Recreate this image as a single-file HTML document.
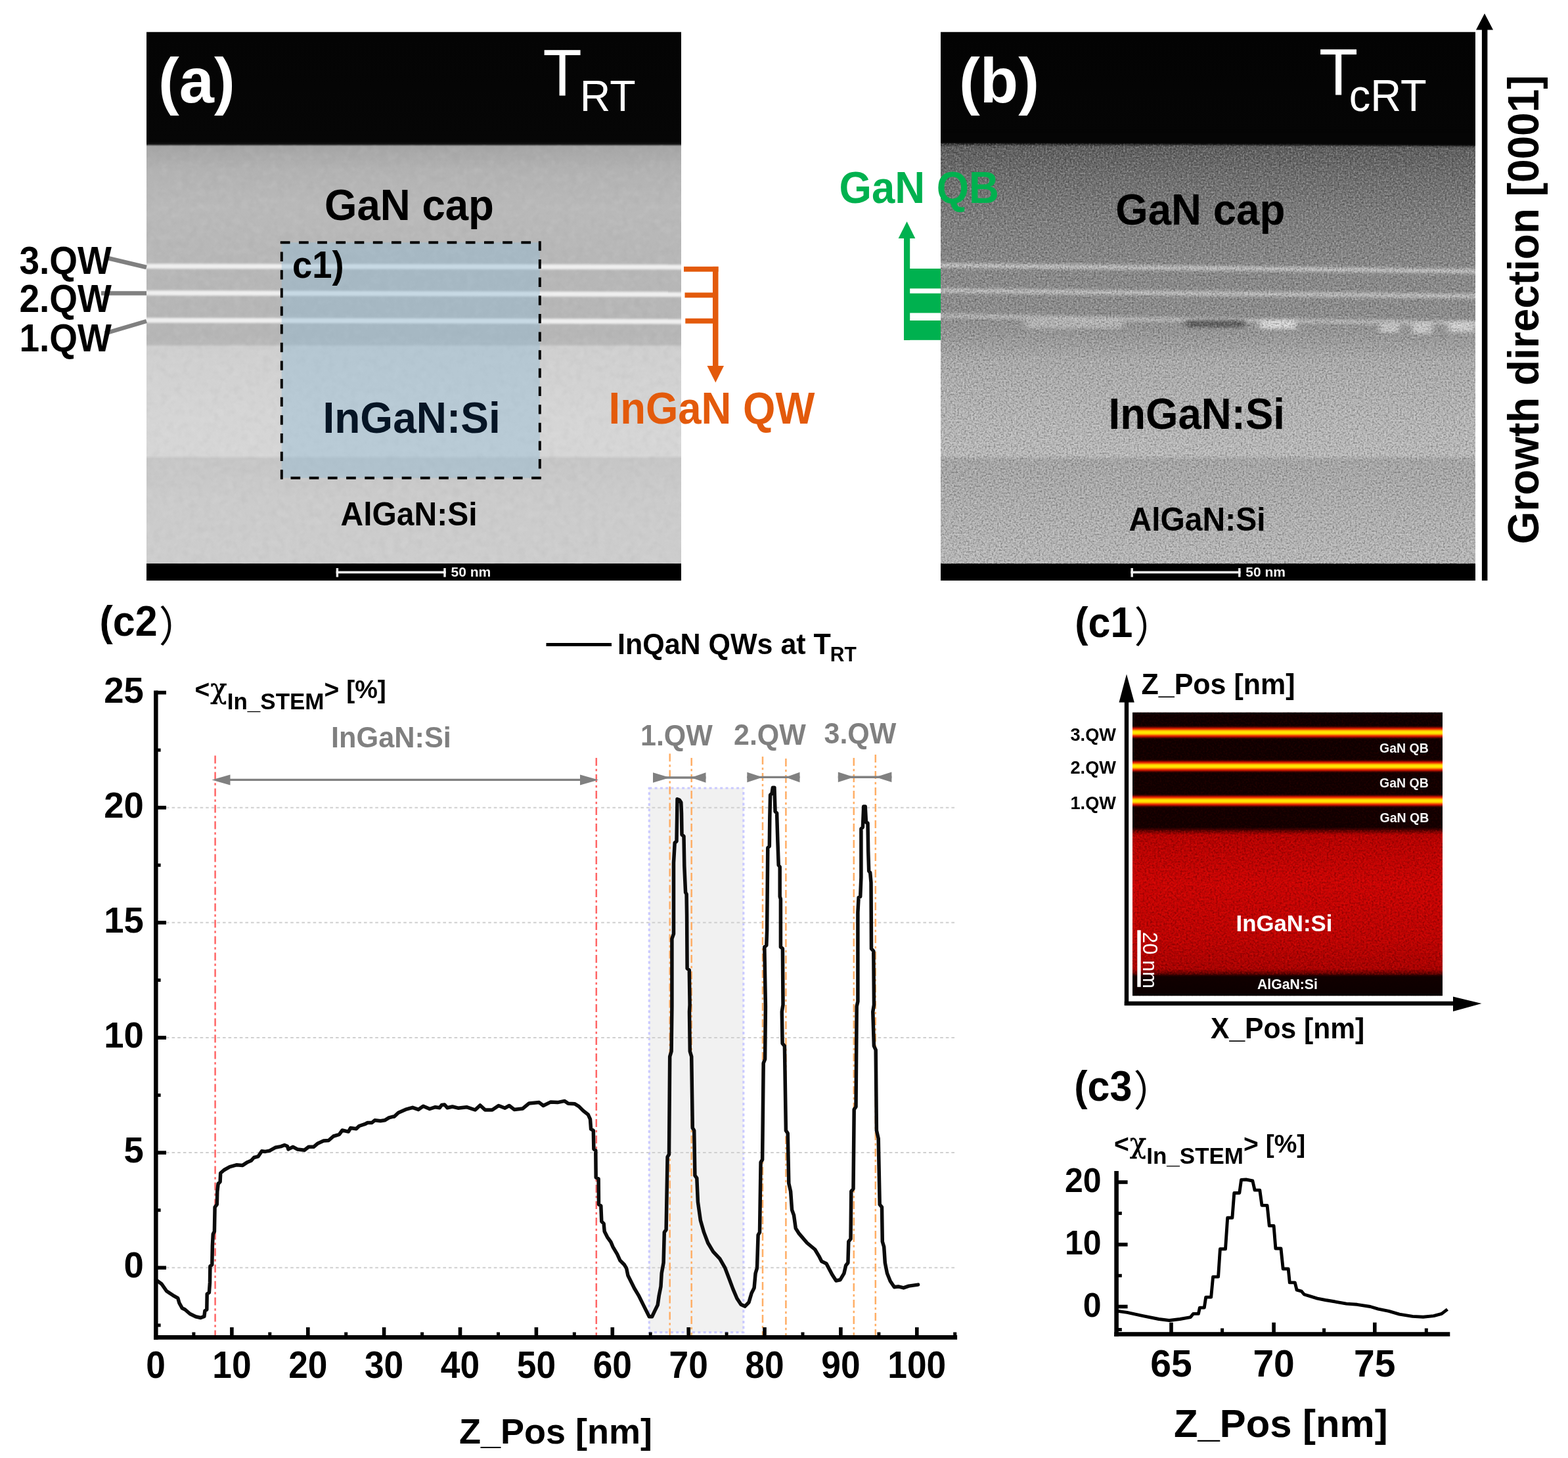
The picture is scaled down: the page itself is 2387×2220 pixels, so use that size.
<!DOCTYPE html>
<html lang="en">
<head>
<meta charset="utf-8">
<title>STEM figure</title>
<style>
html,body{margin:0;padding:0;background:#fff;}
body{width:2387px;height:2220px;}
svg{display:block;font-family:"Liberation Sans", "Noto Sans CJK SC", sans-serif;}
text{white-space:pre;}
</style>
</head>
<body>
<svg width="2387" height="2220" viewBox="0 0 2387 2220">
<rect x="0" y="0" width="2387" height="2220" fill="#fff"/>
<defs>
<filter id="nzA" x="0" y="0" width="100%" height="100%" color-interpolation-filters="sRGB">
 <feTurbulence type="fractalNoise" baseFrequency="0.09" numOctaves="2" seed="3" result="t"/>
 <feColorMatrix in="t" type="matrix" values="0 0 0 0 0.5  0 0 0 0 0.5  0 0 0 0 0.5  1.6 0 0 0 -0.72"/>
</filter>
<filter id="nzA2" x="0" y="0" width="100%" height="100%" color-interpolation-filters="sRGB">
 <feTurbulence type="fractalNoise" baseFrequency="0.09" numOctaves="2" seed="11" result="t"/>
 <feColorMatrix in="t" type="matrix" values="0 0 0 0 1  0 0 0 0 1  0 0 0 0 1  1.6 0 0 0 -0.72"/>
</filter>
<filter id="nzB" x="0" y="0" width="100%" height="100%" color-interpolation-filters="sRGB">
 <feTurbulence type="fractalNoise" baseFrequency="0.38" numOctaves="2" seed="5" result="t"/>
 <feColorMatrix in="t" type="matrix" values="0 0 0 0 0  0 0 0 0 0  0 0 0 0 0  2.2 0 0 0 -0.9"/>
 <feGaussianBlur stdDeviation="0.6"/>
</filter>
<filter id="nzB2" x="0" y="0" width="100%" height="100%" color-interpolation-filters="sRGB">
 <feTurbulence type="fractalNoise" baseFrequency="0.38" numOctaves="2" seed="17" result="t"/>
 <feColorMatrix in="t" type="matrix" values="0 0 0 0 1  0 0 0 0 1  0 0 0 0 1  2.2 0 0 0 -0.9"/>
 <feGaussianBlur stdDeviation="0.6"/>
</filter>
<filter id="nzC" x="0" y="0" width="100%" height="100%" color-interpolation-filters="sRGB">
 <feTurbulence type="fractalNoise" baseFrequency="0.35" numOctaves="2" seed="8" result="t"/>
 <feColorMatrix in="t" type="matrix" values="0 0 0 0 0.05  0 0 0 0 0  0 0 0 0 0  2.4 0 0 0 -0.95"/>
</filter>
<filter id="nzC2" x="0" y="0" width="100%" height="100%" color-interpolation-filters="sRGB">
 <feTurbulence type="fractalNoise" baseFrequency="0.35" numOctaves="2" seed="21" result="t"/>
 <feColorMatrix in="t" type="matrix" values="0 0 0 0 1  0 0 0 0 0.1  0 0 0 0 0.05  2.4 0 0 0 -0.95"/>
</filter>
<filter id="bl1" x="-5%" y="-300%" width="110%" height="700%" color-interpolation-filters="sRGB"><feGaussianBlur stdDeviation="0 1.7"/></filter>
<filter id="bl2" x="-5%" y="-300%" width="110%" height="700%" color-interpolation-filters="sRGB"><feGaussianBlur stdDeviation="0 2.2"/></filter>
<filter id="bl3" x="-20%" y="-60%" width="140%" height="220%" color-interpolation-filters="sRGB"><feGaussianBlur stdDeviation="4 2.5"/></filter>
<linearGradient id="gA" x1="0" y1="0" x2="0" y2="1" gradientUnits="objectBoundingBox">
 <stop offset="0" stop-color="#040404"/>
 <stop offset="0.2005" stop-color="#060606"/>
 <stop offset="0.2045" stop-color="#141414"/>
 <stop offset="0.2085" stop-color="#a6a6a6"/>
 <stop offset="0.25" stop-color="#b2b2b2"/>
 <stop offset="0.32" stop-color="#b9b9b9"/>
 <stop offset="0.42" stop-color="#b7b7b7"/>
 <stop offset="0.555" stop-color="#b6b6b6"/>
 <stop offset="0.569" stop-color="#b9b9b9"/>
 <stop offset="0.574" stop-color="#cfcfcf"/>
 <stop offset="0.70" stop-color="#d5d5d5"/>
 <stop offset="0.772" stop-color="#d6d6d6"/>
 <stop offset="0.778" stop-color="#c6c6c6"/>
 <stop offset="0.85" stop-color="#cbcbcb"/>
 <stop offset="0.9685" stop-color="#cdcdcd"/>
 <stop offset="0.9695" stop-color="#000"/>
 <stop offset="1" stop-color="#000"/>
</linearGradient>
<linearGradient id="gB" x1="0" y1="0" x2="0" y2="1" gradientUnits="objectBoundingBox">
 <stop offset="0" stop-color="#030303"/>
 <stop offset="0.196" stop-color="#050505"/>
 <stop offset="0.202" stop-color="#111"/>
 <stop offset="0.209" stop-color="#5a5a5a"/>
 <stop offset="0.26" stop-color="#6a6a6a"/>
 <stop offset="0.34" stop-color="#7c7c7c"/>
 <stop offset="0.42" stop-color="#878787"/>
 <stop offset="0.52" stop-color="#8e8e8e"/>
 <stop offset="0.56" stop-color="#9c9c9c"/>
 <stop offset="0.60" stop-color="#aeaeae"/>
 <stop offset="0.70" stop-color="#b9b9b9"/>
 <stop offset="0.772" stop-color="#bebebe"/>
 <stop offset="0.780" stop-color="#a9a9a9"/>
 <stop offset="0.88" stop-color="#b4b4b4"/>
 <stop offset="0.9685" stop-color="#bcbcbc"/>
 <stop offset="0.9695" stop-color="#000"/>
 <stop offset="1" stop-color="#000"/>
</linearGradient>
<linearGradient id="gC" x1="0" y1="0" x2="0" y2="1" gradientUnits="objectBoundingBox">
 <stop offset="0" stop-color="#0e0000"/>
 <stop offset="0.405" stop-color="#120000"/>
 <stop offset="0.418" stop-color="#5a0000"/>
 <stop offset="0.432" stop-color="#b80202"/>
 <stop offset="0.60" stop-color="#ce0404"/>
 <stop offset="0.80" stop-color="#c00303"/>
 <stop offset="0.905" stop-color="#aa0202"/>
 <stop offset="0.920" stop-color="#600000"/>
 <stop offset="0.932" stop-color="#120000"/>
 <stop offset="1" stop-color="#0c0000"/>
</linearGradient>
<clipPath id="cpA"><rect x="223" y="48.5" width="814" height="835.5"/></clipPath>
<clipPath id="cpB"><rect x="1432" y="48.5" width="814" height="835.5"/></clipPath>
<clipPath id="cpC"><rect x="1724" y="1084.5" width="472" height="432"/></clipPath>
</defs>
<g clip-path="url(#cpA)">
<rect x="223" y="48.5" width="814" height="835.5" fill="url(#gA)"/>
<rect x="223" y="220" width="814" height="638.5" filter="url(#nzA)" opacity="0.10"/>
<rect x="223" y="220" width="814" height="638.5" filter="url(#nzA2)" opacity="0.10"/>
<g filter="url(#bl1)" stroke="#efefef" stroke-width="7.6" fill="none">
<path d="M213 405.3 L1047 406.6"/>
<path d="M213 446.0 L1047 448.2"/>
<path d="M213 487.6 L1047 489.6"/>
</g>
</g>
<rect x="428.8" y="369.3" width="393" height="358.4" fill="rgb(144,186,214)" fill-opacity="0.41"/>
<g fill="none" stroke="#000" stroke-width="3.9">
<path d="M426.8 369.3 H821.8" stroke-dasharray="14.7 13.5"/><path d="M821.8 367.3 V727.7" stroke-dasharray="14.4 13.25"/><path d="M823.8 727.7 H428.8" stroke-dasharray="14.7 13.5"/><path d="M428.8 729.7 V369.3" stroke-dasharray="14.4 13.25"/>
</g>
<rect x="511.7" y="869.6" width="167" height="3.6" fill="#f2f2f2"/>
<rect x="511.7" y="865" width="3.4" height="13.6" fill="#f2f2f2"/>
<rect x="675.3" y="865" width="3.4" height="13.6" fill="#f2f2f2"/>
<text x="686.5" y="878.3" font-size="21" font-weight="bold" fill="#f4f4f4" text-anchor="start">50 nm</text>
<text x="241" y="156.2" font-size="95.5" font-weight="bold" fill="#fff" text-anchor="start">(a)</text>
<text transform="translate(826.5 145) scale(1 1.04)" font-size="97" fill="#fff" font-weight="normal">T<tspan font-size="64.5" dx="-3" dy="23">RT</tspan></text>
<text transform="translate(494 334.5) scale(1 1.05)" font-size="63.6" font-weight="bold" fill="#000" text-anchor="start">GaN cap</text>
<text transform="translate(445 422.5) scale(1 1.045)" font-size="54.5" font-weight="bold" fill="#000" text-anchor="start">c1)</text>
<text transform="translate(491.5 658.7) scale(1 1.04)" font-size="64" font-weight="bold" fill="#061525" text-anchor="start">InGaN:Si</text>
<text transform="translate(518.5 800.2) scale(1 1.03)" font-size="48" font-weight="bold" fill="#000" text-anchor="start">AlGaN:Si</text>
<g stroke="#808080" stroke-width="6.5" fill="none"><path d="M160 392 L223 407"/><path d="M154 446.5 L223 446.5"/><path d="M160 507.5 L223 489"/></g>
<text transform="translate(29.5 416.6) scale(1 1.07)" font-size="55" font-weight="bold" fill="#000" text-anchor="start">3.QW</text>
<text transform="translate(29.5 474.6) scale(1 1.07)" font-size="55" font-weight="bold" fill="#000" text-anchor="start">2.QW</text>
<text transform="translate(29.5 535) scale(1 1.07)" font-size="55" font-weight="bold" fill="#000" text-anchor="start">1.QW</text>
<g fill="#e35a0b">
<rect x="1041" y="405.9" width="52.5" height="7.8"/>
<rect x="1042.5" y="445.5" width="48" height="7.8"/>
<rect x="1043.3" y="484.8" width="48" height="7.8"/>
<rect x="1085" y="405.9" width="8.5" height="154"/>
<path d="M1076.5 557 L1102 557 L1089.3 582.5 Z"/>
</g>
<text transform="translate(926.5 644.6) scale(1 1.065)" font-size="63.5" font-weight="bold" fill="#e35a0b" text-anchor="start">InGaN QW</text>
<g clip-path="url(#cpB)">
<rect x="1432" y="48.5" width="814" height="835.5" fill="url(#gB)"/>
<g filter="url(#bl2)">
<path d="M1422 404 L2256 413" stroke="#c4c4c4" stroke-width="7" fill="none"/>
<path d="M1422 442.5 L2256 451" stroke="#c2c2c2" stroke-width="7" fill="none"/>
<path d="M1422 480.5 L1700 486 L2256 492" stroke="#b8b8b8" stroke-width="7" fill="none"/>
</g>
<g filter="url(#bl3)">
<rect x="1560" y="486" width="150" height="14" fill="#c8c8c8" opacity="0.7"/>
<rect x="1805" y="488" width="90" height="10" fill="#505050" opacity="0.95"/>
<rect x="1918" y="488" width="55" height="13" fill="#e4e4e4" opacity="0.9"/>
<rect x="2100" y="492" width="30" height="14" fill="#d8d8d8" opacity="0.8"/>
<rect x="2150" y="492" width="30" height="16" fill="#dcdcdc" opacity="0.8"/>
<rect x="2205" y="490" width="40" height="16" fill="#e0e0e0" opacity="0.8"/>
</g>
<rect x="1432" y="218" width="814" height="640.5" filter="url(#nzB)" opacity="0.34"/>
<rect x="1432" y="218" width="814" height="640.5" filter="url(#nzB2)" opacity="0.34"/>
<path d="M1422 200 L2256 200 L2256 222.5 L1422 217 Z" fill="#050505" filter="url(#bl1)"/>
</g>
<rect x="1721.5" y="869.6" width="167" height="3.6" fill="#f2f2f2"/>
<rect x="1721.5" y="865" width="3.4" height="13.6" fill="#f2f2f2"/>
<rect x="1885.1" y="865" width="3.4" height="13.6" fill="#f2f2f2"/>
<text x="1896.3" y="878.3" font-size="21" font-weight="bold" fill="#f4f4f4" text-anchor="start">50 nm</text>
<text x="1460" y="156.2" font-size="95.5" font-weight="bold" fill="#fff" text-anchor="start">(b)</text>
<text transform="translate(2008 144.3) scale(1 1.04)" font-size="97" fill="#fff" font-weight="normal">T<tspan font-size="65" dx="-13.5" dy="23.5">cRT</tspan></text>
<text transform="translate(1698.3 341.5) scale(1 1.05)" font-size="63.6" font-weight="bold" fill="#000" text-anchor="start">GaN cap</text>
<text transform="translate(1687.5 652.5) scale(1 1.04)" font-size="63.6" font-weight="bold" fill="#000" text-anchor="start">InGaN:Si</text>
<text transform="translate(1718.5 808) scale(1 1.03)" font-size="48" font-weight="bold" fill="#000" text-anchor="start">AlGaN:Si</text>
<g fill="#00b14f">
<rect x="1376" y="360" width="9.2" height="158"/>
<path d="M1367.6 363 L1393.3 363 L1380.6 337.2 Z"/>
<rect x="1376" y="409" width="56" height="30.3"/>
<rect x="1376" y="446.7" width="56" height="29.8"/>
<rect x="1376" y="488" width="56" height="29.8"/>
</g>
<text transform="translate(1277.5 308.5) scale(1 1.065)" font-size="63.5" font-weight="bold" fill="#00b14f" text-anchor="start">GaN QB</text>
<rect x="2255.9" y="44" width="8.5" height="840" fill="#000"/>
<path d="M2247 45.5 L2273 45.5 L2260 20.5 Z" fill="#000"/>
<text transform="translate(2341.7 828.5) rotate(-90)" font-size="67" font-weight="bold" fill="#000" textLength="714" lengthAdjust="spacingAndGlyphs">Growth direction [0001]</text>
<rect x="988.3" y="1200" width="143.5" height="828.6" fill="#f1f1f1"/>
<rect x="988.3" y="1200" width="143.5" height="828.6" fill="none" stroke="#cacaff" stroke-width="3.2" stroke-dasharray="4 4.3"/>
<line x1="253" x2="1453" y1="1930.3" y2="1930.3" stroke="#d0d0d0" stroke-width="2" stroke-dasharray="4.6 4"/>
<line x1="253" x2="1453" y1="1755.1" y2="1755.1" stroke="#d0d0d0" stroke-width="2" stroke-dasharray="4.6 4"/>
<line x1="253" x2="1453" y1="1580.0" y2="1580.0" stroke="#d0d0d0" stroke-width="2" stroke-dasharray="4.6 4"/>
<line x1="253" x2="1453" y1="1404.8" y2="1404.8" stroke="#d0d0d0" stroke-width="2" stroke-dasharray="4.6 4"/>
<line x1="253" x2="1453" y1="1229.7" y2="1229.7" stroke="#d0d0d0" stroke-width="2" stroke-dasharray="4.6 4"/>
<line x1="327.6" x2="327.6" y1="1150.5" y2="2034" stroke="#ff6666" stroke-width="2.5" stroke-dasharray="12 4.8 3.4 4.8"/>
<line x1="907.8" x2="907.8" y1="1154.0" y2="2034" stroke="#ff6666" stroke-width="2.5" stroke-dasharray="12 4.8 3.4 4.8"/>
<line x1="1019.7" x2="1019.7" y1="1147.5" y2="2034" stroke="#ffae66" stroke-width="2.5" stroke-dasharray="12 4.8 3.4 4.8"/>
<line x1="1052.7" x2="1052.7" y1="1154.0" y2="2034" stroke="#ffae66" stroke-width="2.5" stroke-dasharray="12 4.8 3.4 4.8"/>
<line x1="1161.0" x2="1161.0" y1="1152.0" y2="2034" stroke="#ffae66" stroke-width="2.5" stroke-dasharray="12 4.8 3.4 4.8"/>
<line x1="1196.4" x2="1196.4" y1="1155.0" y2="2034" stroke="#ffae66" stroke-width="2.5" stroke-dasharray="12 4.8 3.4 4.8"/>
<line x1="1299.8" x2="1299.8" y1="1154.0" y2="2034" stroke="#ffae66" stroke-width="2.5" stroke-dasharray="12 4.8 3.4 4.8"/>
<line x1="1332.8" x2="1332.8" y1="1149.0" y2="2034" stroke="#ffae66" stroke-width="2.5" stroke-dasharray="12 4.8 3.4 4.8"/>
<line x1="332.5" x2="901.0" y1="1187.4" y2="1187.4" stroke="#808080" stroke-width="3.4"/>
<path d="M322.5 1187.4 l28 -8 v16 Z" fill="#808080"/>
<path d="M911.0 1187.4 l-28 -8 v16 Z" fill="#808080"/>
<line x1="994.0" x2="1074.5" y1="1184.0" y2="1184.0" stroke="#808080" stroke-width="3.4"/>
<path d="M994.0 1176.2 v15.5 L1020.0 1184.0 Z" fill="#808080"/>
<path d="M1074.5 1176.2 v15.5 L1052.0 1184.0 Z" fill="#808080"/>
<line x1="1137.3" x2="1217.5" y1="1183.4" y2="1183.4" stroke="#808080" stroke-width="3.4"/>
<path d="M1137.3 1175.7 v15.5 L1161.0 1183.4 Z" fill="#808080"/>
<path d="M1217.5 1175.7 v15.5 L1196.0 1183.4 Z" fill="#808080"/>
<line x1="1275.8" x2="1357.4" y1="1183.2" y2="1183.2" stroke="#808080" stroke-width="3.4"/>
<path d="M1275.8 1175.5 v15.5 L1300.0 1183.2 Z" fill="#808080"/>
<path d="M1357.4 1175.5 v15.5 L1333.0 1183.2 Z" fill="#808080"/>
<text transform="translate(504 1137.5) scale(1 1.03)" font-size="43.3" font-weight="bold" fill="#808080" text-anchor="start">InGaN:Si</text>
<text transform="translate(975 1134.8) scale(1 1.04)" font-size="43" font-weight="bold" fill="#808080" text-anchor="start">1.QW</text>
<text transform="translate(1117 1134) scale(1 1.04)" font-size="43" font-weight="bold" fill="#808080" text-anchor="start">2.QW</text>
<text transform="translate(1254.5 1132) scale(1 1.04)" font-size="43" font-weight="bold" fill="#808080" text-anchor="start">3.QW</text>
<path d="M237.4 1948.5 L238.4 1949.6 L246.0 1955.0 L253.5 1965.8 L263.3 1972.3 L270.8 1976.7 L273.0 1984.2 L277.3 1991.8 L281.7 1994.0 L289.2 2000.5 L297.9 2004.8 L305.5 2006.5 L310.9 2004.4 L311.9 1996.1 L314.8 1994.0 L315.2 1970.2 L318.4 1968.0 L319.5 1952.9 L319.9 1928.0 L322.8 1925.8 L323.4 1896.6 L324.3 1879.3 L326.4 1875.0 L327.1 1838.2 L330.3 1833.9 L330.8 1814.4 L332.1 1802.5 L335.1 1799.3 L335.7 1786.3 L341.1 1781.5 L349.8 1776.6 L360.6 1773.7 L369.3 1774.4 L375.8 1770.1 L382.2 1767.3 L386.6 1762.5 L393.1 1760.8 L398.5 1752.8 L403.9 1753.4 L410.4 1752.1 L419.0 1747.3 L427.7 1745.6 L433.1 1743.5 L437.4 1745.2 L438.9 1749.9 L446.1 1746.3 L452.6 1749.9 L463.4 1751.2 L469.9 1746.3 L477.4 1746.3 L483.9 1740.9 L492.6 1737.0 L500.2 1736.5 L507.7 1730.0 L516.4 1727.4 L521.1 1721.0 L530.4 1723.1 L533.7 1717.5 L542.3 1718.8 L546.7 1714.5 L555.3 1711.7 L559.6 1709.5 L566.1 1709.5 L570.5 1705.8 L579.1 1706.7 L585.6 1705.8 L592.1 1701.9 L598.6 1700.2 L600.0 1700.2 L606.5 1694.3 L617.3 1689.4 L628.1 1686.3 L636.8 1689.4 L644.3 1684.2 L654.1 1688.5 L662.7 1685.7 L669.2 1686.8 L672.5 1682.4 L676.8 1682.0 L681.1 1686.8 L688.7 1685.0 L697.3 1687.2 L710.3 1685.7 L723.3 1690.0 L730.9 1682.9 L738.5 1690.0 L749.3 1690.0 L759.0 1683.5 L768.7 1687.2 L775.2 1683.5 L782.8 1689.4 L795.8 1687.9 L805.5 1679.9 L820.7 1678.6 L827.1 1683.5 L838.0 1678.1 L848.8 1678.6 L859.6 1676.4 L865.0 1680.3 L874.7 1680.7 L881.2 1684.6 L887.7 1691.1 L895.3 1697.2 L898.5 1704.1 L899.6 1719.2 L903.3 1721.4 L903.9 1749.5 L906.8 1751.7 L907.2 1792.8 L911.1 1794.9 L911.5 1833.9 L914.8 1836.0 L915.8 1859.8 L919.1 1863.1 L920.2 1875.0 L924.5 1883.6 L929.9 1891.2 L933.2 1898.8 L939.6 1909.6 L944.0 1919.3 L950.5 1925.8 L953.7 1931.2 L955.9 1942.0 L962.4 1955.0 L965.6 1961.5 L972.1 1972.3 L980.7 1989.6 L988.3 2004.8 L992.6 2004.8 L997.2 1995.1 L1001.2 1987.0 L1003.2 1973.0 L1006.0 1958.9 L1007.2 1938.8 L1010.1 1922.7 L1011.3 1876.4 L1014.1 1872.4 L1016.1 1761.7 L1018.5 1757.7 L1019.7 1608.8 L1022.1 1600.7 L1022.9 1532.3 L1022.9 1429.3 L1025.5 1421.8 L1025.5 1313.6 L1027.2 1283.4 L1030.0 1280.9 L1030.5 1250.7 L1031.0 1216.8 L1034.3 1218.0 L1036.8 1221.8 L1037.5 1238.1 L1038.0 1270.8 L1041.0 1273.4 L1041.8 1318.6 L1043.6 1358.9 L1045.1 1361.4 L1045.6 1394.1 L1046.1 1474.6 L1049.3 1477.1 L1050.1 1529.9 L1049.5 1540.4 L1050.3 1600.7 L1052.7 1608.8 L1054.3 1717.4 L1056.7 1721.4 L1057.9 1789.9 L1060.8 1793.9 L1062.4 1830.1 L1066.4 1858.3 L1071.6 1876.4 L1077.7 1892.5 L1085.7 1905.8 L1095.8 1916.6 L1103.8 1930.7 L1109.9 1946.8 L1115.9 1962.9 L1121.9 1977.0 L1128.0 1986.2 L1134.0 1989.1 L1140.0 1983.0 L1144.1 1968.9 L1148.1 1960.9 L1150.1 1938.8 L1152.5 1930.7 L1154.1 1880.4 L1156.5 1876.4 L1158.1 1769.7 L1160.6 1765.7 L1162.2 1618.8 L1164.6 1612.8 L1165.4 1532.3 L1163.8 1441.9 L1166.8 1439.4 L1167.6 1416.7 L1168.8 1291.0 L1171.3 1288.5 L1171.8 1245.7 L1172.6 1210.5 L1175.1 1208.0 L1176.4 1199.2 L1178.9 1199.2 L1180.1 1235.6 L1182.6 1238.1 L1183.9 1280.9 L1185.2 1317.4 L1187.2 1319.9 L1187.2 1365.2 L1188.4 1368.9 L1188.4 1441.9 L1191.4 1444.4 L1192.0 1529.9 L1190.3 1540.4 L1191.1 1588.7 L1194.4 1592.7 L1196.4 1721.4 L1199.2 1725.5 L1200.8 1801.9 L1203.6 1814.0 L1205.6 1842.2 L1208.5 1850.2 L1211.3 1870.3 L1216.5 1878.4 L1228.6 1892.5 L1240.6 1902.5 L1246.7 1912.6 L1250.7 1920.6 L1257.9 1923.9 L1266.8 1940.8 L1272.8 1950.0 L1278.9 1948.8 L1284.9 1938.8 L1287.7 1926.7 L1290.9 1922.7 L1291.8 1890.5 L1295.0 1886.4 L1295.8 1814.0 L1299.0 1810.0 L1300.2 1689.3 L1303.0 1685.2 L1304.2 1532.3 L1305.9 1524.9 L1305.9 1389.1 L1307.1 1366.4 L1309.7 1365.2 L1310.9 1336.2 L1310.9 1262.0 L1313.4 1259.5 L1314.7 1228.1 L1317.2 1228.1 L1318.5 1252.0 L1321.0 1253.2 L1321.7 1296.0 L1322.7 1326.2 L1324.7 1328.7 L1326.0 1343.8 L1326.5 1444.4 L1329.8 1448.2 L1330.5 1529.9 L1328.8 1540.4 L1330.4 1592.7 L1333.2 1598.7 L1334.4 1721.4 L1337.2 1733.5 L1339.2 1834.1 L1342.5 1838.1 L1343.3 1890.5 L1345.7 1898.5 L1347.3 1922.7 L1350.5 1938.8 L1355.3 1950.8 L1361.4 1959.7 L1367.4 1958.9 L1375.5 1960.9 L1383.5 1958.1 L1397.6 1956.1" fill="none" stroke="#0c0c0c" stroke-width="5.5" stroke-linejoin="round" stroke-linecap="round"/>
<g fill="#000">
<rect x="234.1" y="1051.5" width="6.5" height="988.2"/>
<rect x="234.1" y="2033" width="1223" height="6.7"/>
<rect x="237" y="1927.5" width="16" height="5.6"/>
<rect x="237" y="1752.3" width="16" height="5.6"/>
<rect x="237" y="1577.2" width="16" height="5.6"/>
<rect x="237" y="1402.0" width="16" height="5.6"/>
<rect x="237" y="1226.9" width="16" height="5.6"/>
<rect x="237" y="1051.8" width="16" height="5.6"/>
<rect x="237" y="2015.4" width="7.6" height="5"/>
<rect x="237" y="1840.2" width="7.6" height="5"/>
<rect x="237" y="1665.1" width="7.6" height="5"/>
<rect x="237" y="1489.9" width="7.6" height="5"/>
<rect x="237" y="1314.8" width="7.6" height="5"/>
<rect x="237" y="1139.6" width="7.6" height="5"/>
<rect x="350.1" y="2021" width="5.6" height="14"/>
<rect x="466.0" y="2021" width="5.6" height="14"/>
<rect x="581.8" y="2021" width="5.6" height="14"/>
<rect x="697.7" y="2021" width="5.6" height="14"/>
<rect x="813.6" y="2021" width="5.6" height="14"/>
<rect x="929.5" y="2021" width="5.6" height="14"/>
<rect x="1045.4" y="2021" width="5.6" height="14"/>
<rect x="1161.2" y="2021" width="5.6" height="14"/>
<rect x="1277.1" y="2021" width="5.6" height="14"/>
<rect x="1393.0" y="2021" width="5.6" height="14"/>
<rect x="292.4" y="2028.5" width="5" height="7"/>
<rect x="408.3" y="2028.5" width="5" height="7"/>
<rect x="524.2" y="2028.5" width="5" height="7"/>
<rect x="640.1" y="2028.5" width="5" height="7"/>
<rect x="756.0" y="2028.5" width="5" height="7"/>
<rect x="871.8" y="2028.5" width="5" height="7"/>
<rect x="987.7" y="2028.5" width="5" height="7"/>
<rect x="1103.6" y="2028.5" width="5" height="7"/>
<rect x="1219.5" y="2028.5" width="5" height="7"/>
<rect x="1335.4" y="2028.5" width="5" height="7"/>
<rect x="1451.2" y="2028.5" width="5" height="7"/>
</g>
<text transform="translate(218.8 1945.2) scale(1 1.02)" font-size="54.5" font-weight="bold" fill="#000" text-anchor="end">0</text>
<text transform="translate(218.8 1770.0) scale(1 1.02)" font-size="54.5" font-weight="bold" fill="#000" text-anchor="end">5</text>
<text transform="translate(218.8 1594.9) scale(1 1.02)" font-size="54.5" font-weight="bold" fill="#000" text-anchor="end">10</text>
<text transform="translate(218.8 1419.8) scale(1 1.02)" font-size="54.5" font-weight="bold" fill="#000" text-anchor="end">15</text>
<text transform="translate(218.8 1244.6) scale(1 1.02)" font-size="54.5" font-weight="bold" fill="#000" text-anchor="end">20</text>
<text transform="translate(218.8 1069.5) scale(1 1.02)" font-size="54.5" font-weight="bold" fill="#000" text-anchor="end">25</text>
<text transform="translate(237.0 2098) scale(1 1.087)" font-size="53.3" font-weight="bold" fill="#000" text-anchor="middle">0</text>
<text transform="translate(352.9 2098) scale(1 1.087)" font-size="53.3" font-weight="bold" fill="#000" text-anchor="middle">10</text>
<text transform="translate(468.8 2098) scale(1 1.087)" font-size="53.3" font-weight="bold" fill="#000" text-anchor="middle">20</text>
<text transform="translate(584.6 2098) scale(1 1.087)" font-size="53.3" font-weight="bold" fill="#000" text-anchor="middle">30</text>
<text transform="translate(700.5 2098) scale(1 1.087)" font-size="53.3" font-weight="bold" fill="#000" text-anchor="middle">40</text>
<text transform="translate(816.4 2098) scale(1 1.087)" font-size="53.3" font-weight="bold" fill="#000" text-anchor="middle">50</text>
<text transform="translate(932.3 2098) scale(1 1.087)" font-size="53.3" font-weight="bold" fill="#000" text-anchor="middle">60</text>
<text transform="translate(1048.2 2098) scale(1 1.087)" font-size="53.3" font-weight="bold" fill="#000" text-anchor="middle">70</text>
<text transform="translate(1164.0 2098) scale(1 1.087)" font-size="53.3" font-weight="bold" fill="#000" text-anchor="middle">80</text>
<text transform="translate(1279.9 2098) scale(1 1.087)" font-size="53.3" font-weight="bold" fill="#000" text-anchor="middle">90</text>
<text transform="translate(1395.8 2098) scale(1 1.087)" font-size="53.3" font-weight="bold" fill="#000" text-anchor="middle">100</text>
<text x="699" y="2197.5" font-size="54" font-weight="bold" fill="#000" text-anchor="start">Z_Pos [nm]</text>
<text x="296.5" y="1063" font-size="39" font-weight="bold" fill="#000">&lt;<tspan font-family='"DejaVu Serif", "Liberation Serif", serif' font-weight="normal" stroke="#000" stroke-width="0.45" font-size="42" dx="1" dy="0">χ</tspan><tspan font-size="35" dx="0" dy="17">In_STEM</tspan><tspan dy="-17">&gt; [%]</tspan></text>
<line x1="831.5" x2="931" y1="981.5" y2="981.5" stroke="#000" stroke-width="5"/>
<text transform="translate(940 996.2) scale(1 1.05)" font-size="43" font-weight="bold" fill="#000">InQaN QWs at T<tspan font-size="30" dx="-1" dy="10.5">RT</tspan></text>
<text transform="translate(151.5 968.3) scale(1 1.05)" font-size="61" font-weight="bold" fill="#000">(c2<tspan font-weight="normal" font-family='"Noto Sans CJK SC", "Liberation Sans", sans-serif' dx="2" dy="8">）</tspan></text>
<text transform="translate(1636.3 970) scale(1 1.05)" font-size="61" font-weight="bold" fill="#000">(c1<tspan font-weight="normal" font-family='"Noto Sans CJK SC", "Liberation Sans", sans-serif' dx="2" dy="8">）</tspan></text>
<text transform="translate(1635.3 1676) scale(1 1.05)" font-size="61" font-weight="bold" fill="#000">(c3<tspan font-weight="normal" font-family='"Noto Sans CJK SC", "Liberation Sans", sans-serif' dx="2" dy="8">）</tspan></text>
<g clip-path="url(#cpC)">
<rect x="1724" y="1084.5" width="472" height="432" fill="url(#gC)"/>
<rect x="1724" y="1084.5" width="472" height="432" filter="url(#nzC)" opacity="0.30"/>
<rect x="1724" y="1084.5" width="472" height="180" filter="url(#nzC2)" opacity="0.07"/>
<rect x="1724" y="1264" width="472" height="220" filter="url(#nzC2)" opacity="0.34"/>
<rect x="1714" y="1107.7" width="492" height="15" fill="#f01400" filter="url(#bl1)"/>
<rect x="1714" y="1111.4" width="492" height="7.6" fill="#ffc400" filter="url(#bl1)"/>
<rect x="1714" y="1113.2" width="492" height="4" fill="#fff200" filter="url(#bl1)"/>
<rect x="1714" y="1159.1" width="492" height="15" fill="#f01400" filter="url(#bl1)"/>
<rect x="1714" y="1162.8" width="492" height="7.6" fill="#ffc400" filter="url(#bl1)"/>
<rect x="1714" y="1164.6" width="492" height="4" fill="#fff200" filter="url(#bl1)"/>
<rect x="1714" y="1211.9" width="492" height="15" fill="#f01400" filter="url(#bl1)"/>
<rect x="1714" y="1215.6" width="492" height="7.6" fill="#ffc400" filter="url(#bl1)"/>
<rect x="1714" y="1217.4" width="492" height="4" fill="#fff200" filter="url(#bl1)"/>
</g>
<text x="2100" y="1145.5" font-size="19.5" font-weight="bold" fill="#f4f4f4" text-anchor="start">GaN QB</text>
<text x="2100" y="1198.6" font-size="19.5" font-weight="bold" fill="#f4f4f4" text-anchor="start">GaN QB</text>
<text x="2100.5" y="1252.1" font-size="19.5" font-weight="bold" fill="#f4f4f4" text-anchor="start">GaN QB</text>
<text x="1881.5" y="1418" font-size="34.8" font-weight="bold" fill="#fff" text-anchor="start">InGaN:Si</text>
<text x="1914" y="1506.4" font-size="21.2" font-weight="bold" fill="#fff" text-anchor="start">AlGaN:Si</text>
<rect x="1731.3" y="1416.3" width="5.4" height="86.5" fill="#fff"/>
<text transform="translate(1740 1419) rotate(90)" font-size="31" font-weight="normal" fill="#fff">20 nm</text>
<g fill="#000">
<rect x="1711.8" y="1066" width="6.4" height="465"/>
<path d="M1703.5 1069.5 L1726.8 1069.5 L1715 1026.5 Z"/>
<rect x="1711.8" y="1524.7" width="503" height="6.4"/>
<path d="M2212 1517.5 L2212 1540 L2255.5 1528 Z"/>
</g>
<text transform="translate(1737.5 1056.5) scale(1 1.05)" font-size="43" font-weight="bold" fill="#000" text-anchor="start">Z_Pos [nm]</text>
<text transform="translate(1843 1580.5) scale(1 1.04)" font-size="42.6" font-weight="bold" fill="#000" text-anchor="start">X_Pos [nm]</text>
<text transform="translate(1629.5 1128.2) scale(1 1.05)" font-size="27.2" font-weight="bold" fill="#000" text-anchor="start">3.QW</text>
<text transform="translate(1629.5 1177.7) scale(1 1.05)" font-size="27.2" font-weight="bold" fill="#000" text-anchor="start">2.QW</text>
<text transform="translate(1629.5 1232) scale(1 1.05)" font-size="27.2" font-weight="bold" fill="#000" text-anchor="start">1.QW</text>
<path d="M1701.7 1996.4 L1715.8 1998.4 L1739.9 2003.6 L1764.1 2008.5 L1780.2 2010.5 L1796.3 2008.5 L1812.4 2005.6 L1816.4 2000.4 L1824.4 2000.4 L1826.4 1991.1 L1833.3 1991.1 L1835.7 1975.1 L1843.7 1975.1 L1846.6 1944.1 L1854.6 1944.1 L1857.4 1901.8 L1865.5 1901.8 L1868.7 1854.3 L1875.9 1854.3 L1878.8 1816.5 L1886.8 1816.5 L1889.6 1796.4 L1896.9 1796.0 L1906.9 1798.0 L1910.1 1812.1 L1917.8 1812.1 L1921.0 1835.4 L1929.1 1835.4 L1932.3 1866.4 L1939.1 1866.4 L1941.9 1901.0 L1950.0 1901.0 L1953.2 1932.0 L1961.2 1932.0 L1963.3 1952.9 L1971.3 1952.9 L1974.1 1964.2 L1981.4 1966.2 L1985.4 1971.0 L1993.4 1973.4 L2005.5 1977.1 L2017.6 1979.5 L2029.7 1981.5 L2049.8 1985.1 L2065.9 1986.3 L2086.0 1989.5 L2098.1 1993.2 L2114.2 1996.4 L2130.3 2001.2 L2150.4 2004.4 L2166.5 2005.2 L2182.6 2003.6 L2194.6 2000.4 L2203.5 1993.6" fill="none" stroke="#000" stroke-width="4.9" stroke-linejoin="round" stroke-linecap="butt"/>
<g fill="#000">
<rect x="1696.3" y="1783" width="6.6" height="252"/>
<rect x="1696.3" y="2028.2" width="511" height="6.6"/>
<rect x="1699" y="1797.2" width="17.6" height="5.6"/>
<rect x="1699" y="1892.2" width="17.6" height="5.6"/>
<rect x="1699" y="1986.7" width="17.6" height="5.6"/>
<rect x="1699" y="1844.9" width="8.8" height="5"/>
<rect x="1699" y="1939.8" width="8.8" height="5"/>
<rect x="1699" y="2022.0" width="8.8" height="5"/>
<rect x="1780.2" y="2013.7" width="5.6" height="17"/>
<rect x="1936.3" y="2013.7" width="5.6" height="17"/>
<rect x="2090.0" y="2013.7" width="5.6" height="17"/>
<rect x="1858.1" y="2022.5" width="5" height="8"/>
<rect x="2013.1" y="2022.5" width="5" height="8"/>
<rect x="2168.8" y="2022.5" width="5" height="8"/>
</g>
<text transform="translate(1676.5 1815.3) scale(1 1.03)" font-size="50" font-weight="bold" fill="#000" text-anchor="end">20</text>
<text transform="translate(1676.5 1910.3) scale(1 1.03)" font-size="50" font-weight="bold" fill="#000" text-anchor="end">10</text>
<text transform="translate(1676.5 2004.8) scale(1 1.03)" font-size="50" font-weight="bold" fill="#000" text-anchor="end">0</text>
<text x="1783.0" y="2096.3" font-size="57" font-weight="bold" fill="#000" text-anchor="middle">65</text>
<text x="1939.1" y="2096.3" font-size="57" font-weight="bold" fill="#000" text-anchor="middle">70</text>
<text x="2092.8" y="2096.3" font-size="57" font-weight="bold" fill="#000" text-anchor="middle">75</text>
<text x="1787" y="2187.5" font-size="59.8" font-weight="bold" fill="#000" text-anchor="start">Z_Pos [nm]</text>
<text x="1696" y="1755.4" font-size="39" font-weight="bold" fill="#000">&lt;<tspan font-family='"DejaVu Serif", "Liberation Serif", serif' font-weight="normal" stroke="#000" stroke-width="0.45" font-size="42" dx="1" dy="0">χ</tspan><tspan font-size="35" dx="0" dy="17">In_STEM</tspan><tspan dy="-17">&gt; [%]</tspan></text>
</svg>
</body>
</html>
